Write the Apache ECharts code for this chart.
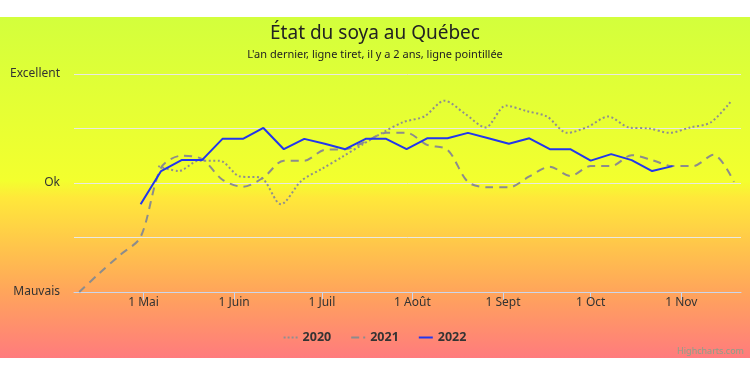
<!DOCTYPE html>
<html>
<head>
<meta charset="utf-8">
<script src="https://cdn.jsdelivr.net/npm/echarts@6/dist/echarts.min.js"></script>
<style>
html,body{margin:0;padding:0;background:#fff;}
#chart{width:750px;height:373px;}
</style>
</head>
<body>
<div id="chart"></div>
<script>
// Weekly report dates (common year 2022 on the axis)
const dates2021_2022 = ['04-09','04-16','04-23','04-30','05-07','05-14','05-21','05-28','06-04','06-11','06-18','06-25','07-02','07-09','07-16','07-23','07-30','08-06','08-13','08-20','08-27','09-03','09-10','09-17','09-24','10-01','10-08','10-15','10-22','10-29','11-05','11-12','11-19'];
const dates2020 = ['05-06','05-13','05-20','05-27','06-03','06-10','06-17','06-24','07-01','07-08','07-15','07-22','07-29','08-05','08-12','08-19','08-26','09-02','09-09','09-16','09-23','09-30','10-07','10-14','10-21','10-28','11-04','11-11','11-18'];

// Condition index: 0 = Mauvais, 2 = Ok, 4 = Excellent
const values2020 = [2.31,2.22,2.41,2.41,2.12,2.10,1.61,2.04,2.26,2.48,2.71,2.93,3.12,3.22,3.51,3.27,3.02,3.42,3.32,3.22,2.92,3.03,3.22,3.02,3.00,2.92,3.02,3.11,3.50];
const values2021 = [0,0.35,0.68,1.01,2.28,2.50,2.44,2.06,1.93,2.10,2.41,2.41,2.61,2.62,2.76,2.92,2.92,2.70,2.61,2.02,1.92,1.92,2.12,2.30,2.13,2.31,2.31,2.51,2.42,2.31,2.31,2.52,2.02];
const values2022 = [null,null,null,1.61,2.22,2.42,2.42,2.81,2.81,3.01,2.62,2.81,2.72,2.62,2.81,2.81,2.62,2.82,2.82,2.92,2.82,2.72,2.82,2.62,2.62,2.41,2.53,2.42,2.22,2.31,null,null,null];

const seriesNames = ['2020','2021','2022'];
const yLabels = {0:'Mauvais', 2:'Ok', 4:'Excellent'};
const monthNames = ['Janv','Févr','Mars','Avr','Mai','Juin','Juil','Août','Sept','Oct','Nov','Déc'];

const titleText = 'État du soya au Québec';
const subtitleText = "L'an dernier, ligne tiret, il y a 2 ans, ligne pointillée";

function pairs(dates, vals){
  const out = [];
  for (let i = 0; i < dates.length; i++) {
    if (vals[i] !== null) out.push(['2022-' + dates[i], vals[i]]);
  }
  return out;
}

const FONT = 'Noto Sans';
const GRAY1 = '#8f8f8f', GRAY2 = '#8c8c8c', BLUE = '#2236ee';
const chart = echarts.init(document.getElementById('chart'), null, {renderer:'canvas'});
chart.setOption({
  animation: false,
  textStyle: {fontFamily: FONT},
  graphic: [
    {
      type: 'rect', z: -100, silent: true,
      shape: {x: 0, y: 17, width: 750, height: 341},
      style: {
        fill: new echarts.graphic.LinearGradient(0, 0, 0, 1, [
          {offset: 0, color: '#d3ff3c'},
          {offset: 0.48, color: '#f3ff2e'},
          {offset: 0.53, color: '#ffe83a'},
          {offset: 0.8, color: '#ffa65a'},
          {offset: 1, color: '#ff7b7d'}
        ])
      }
    },
    {
      type: 'text', right: 6, top: 347, silent: true,
      style: {text: 'Highcharts.com', fill: '#8aa08a', font: '9px ' + FONT}
    }
  ],
  title: {
    text: titleText,
    subtext: subtitleText,
    left: 'center',
    top: 19,
    itemGap: 6,
    textStyle: {fontFamily: FONT, fontSize: 19, fontWeight: 'normal', color: '#222'},
    subtextStyle: {fontFamily: FONT, fontSize: 11, color: '#222'}
  },
  legend: {
    data: [
      {name: seriesNames[0], icon: 'path://M0,0h2v2h-2zM4,0h2v2h-2zM8,0h2v2h-2zM12,0h2v2h-2z'},
      {name: seriesNames[1], icon: 'path://M0,0h8v2h-8zM12,0h2v2h-2z'},
      {name: seriesNames[2], icon: 'path://M0,0h14v2h-14z'}
    ],
    left: 'center',
    top: 326,
    itemGap: 20,
    itemWidth: 14,
    itemHeight: 2,
    textStyle: {fontFamily: FONT, fontSize: 12.5, fontWeight: 'bold', color: '#333'}
  },
  grid: {left: 74, right: 9, top: 74, bottom: 81},
  xAxis: {
    type: 'time',
    min: new Date(2022, 3, 7, 5).getTime(),
    max: new Date(2022, 10, 21, 10).getTime(),
    minInterval: 28 * 86400000,
    maxInterval: 31 * 86400000,
    axisLine: {lineStyle: {color: '#ccd6eb', width: 1}},
    axisTick: {show: true, length: 8, lineStyle: {color: '#ccd6eb'}},
    splitLine: {show: false},
    axisLabel: {
      margin: 5,
      fontSize: 12,
      color: '#333',
      fontFamily: FONT,
      formatter: function (val) {
        const d = new Date(val);
        if (d.getDate() !== 1 || d.getHours() !== 0) return '';
        return '1 ' + monthNames[d.getMonth()];
      }
    }
  },
  yAxis: {
    type: 'value',
    min: 0, max: 4, interval: 1,
    axisLine: {show: false},
    axisTick: {show: false},
    splitLine: {lineStyle: {color: '#e9e9e2', width: 1}},
    axisLabel: {
      margin: 14,
      fontSize: 12,
      color: '#333',
      fontFamily: FONT,
      formatter: function (v) { return yLabels[v] || ''; }
    }
  },
  series: [
    {
      name: seriesNames[0], type: 'line', smooth: 0.3, symbol: 'none',
      data: pairs(dates2020, values2020),
      lineStyle: {color: GRAY1, width: 2, type: [2, 2.5]},
      itemStyle: {color: GRAY1}
    },
    {
      name: seriesNames[1], type: 'line', smooth: 0.3, symbol: 'none',
      data: pairs(dates2021_2022, values2021),
      lineStyle: {color: GRAY2, width: 2, type: [8, 6]},
      itemStyle: {color: GRAY2}
    },
    {
      name: seriesNames[2], type: 'line', smooth: false, symbol: 'none',
      data: pairs(dates2021_2022, values2022),
      lineStyle: {color: BLUE, width: 2},
      itemStyle: {color: BLUE}
    }
  ]
});
</script>
</body>
</html>
